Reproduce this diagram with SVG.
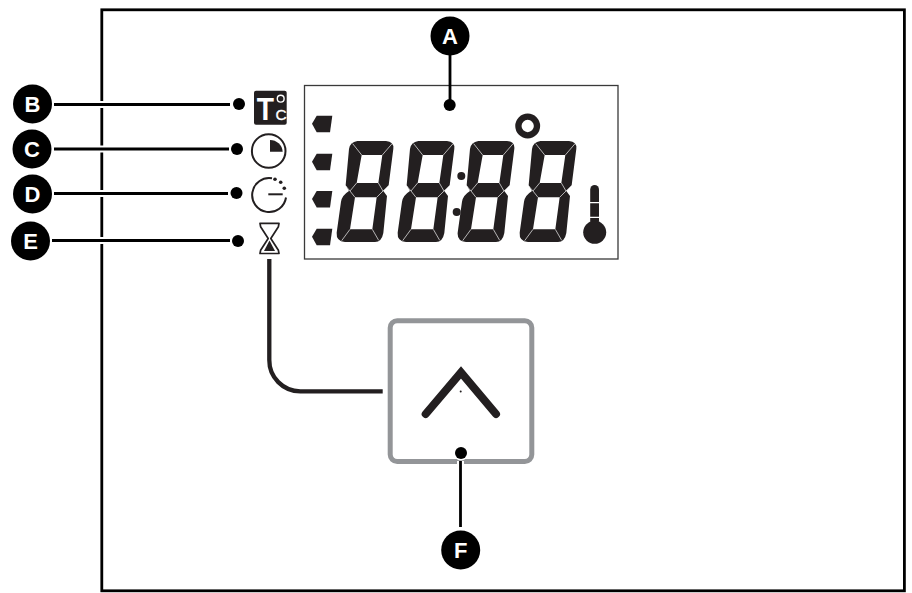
<svg xmlns="http://www.w3.org/2000/svg" width="912" height="593" viewBox="0 0 912 593">
<style>
.k{fill:#000}
.s{fill:#231f20}
.bl{fill:#000}
.lb{font-family:"Liberation Sans",Arial,sans-serif;font-weight:700;font-size:22px;fill:#fff;text-anchor:middle}
.ld{fill:none;stroke:#000;stroke-width:2.8}
.hl{fill:none;stroke:#fff;stroke-width:7}
</style>
<defs>
<g id="digit" transform="translate(300 80) scale(.33333)">
<path class="s" fill-rule="evenodd" d="M172 183H258Q282 185 280 206L266 316 250 333 261 348 250 459Q245 486 225 486H135Q108 484 110 458L123 365Q126 346 147 333L137 316 147 207Q150 186 172 183Z
M185 225H247L235 309H170Z
M165 352H230L217 448H150Z"/>
<path d="M158 191 185 225M277 190 247 225M137 318 150 333 170 309M235 309 249 333 266 318M150 333 165 352M249 333 230 352M125 482 150 448M236 481 217 448" fill="none" stroke="#fff" stroke-width="2"/>
</g>
<g id="flag" class="s"><polygon points="312,0 316.700,-8 332.300,-8 330,8.500 316.700,8.500"/></g>
</defs>

<g id="frame"><rect x="101.800" y="9.800" width="802.600" height="581" fill="none" stroke="#000" stroke-width="2.800"/></g>

<g id="display">
<rect x="304.500" y="85.500" width="313.500" height="173.500" fill="#fff" stroke="#3a3a3a" stroke-width="1.300"/>
<use href="#flag" y="123.700"/><use href="#flag" y="161.700"/><use href="#flag" y="199"/><use href="#flag" y="236.700"/>
<use href="#digit"/><use href="#digit" x="61"/><use href="#digit" x="121"/><use href="#digit" x="183"/>
<circle class="s" cx="461.300" cy="176" r="4"/><circle class="s" cx="456.700" cy="212" r="4"/>
<circle cx="527.700" cy="126" r="9.300" fill="none" stroke="#231f20" stroke-width="6.300"/>
<rect class="s" x="590.200" y="185" width="8.800" height="40" rx="4.400"/>
<circle class="s" cx="594.700" cy="232.300" r="11.500"/>
<path d="M590 202.700h9M590 217.300h9" stroke="#fff" stroke-width="1.200"/>
</g>

<g id="icon-temp">
<rect class="s" x="254" y="90.700" width="32.700" height="34" rx="2"/>
<text transform="translate(265.300 119.700) scale(.89 1)" x="0" y="0" font-family="'Liberation Sans',Arial,sans-serif" font-weight="700" font-size="31.700" fill="#fff" text-anchor="middle">T</text>
<text x="281" y="119.700" font-family="'Liberation Sans',Arial,sans-serif" font-size="15.500" fill="#fff" stroke="#fff" stroke-width=".3" text-anchor="middle">C</text>
<circle cx="280.700" cy="98.700" r="3.400" fill="none" stroke="#fff" stroke-width="1.400"/>
</g>
<g id="icon-timer">
<circle cx="268.700" cy="151" r="16.800" fill="#fff" stroke="#231f20" stroke-width="2"/>
<path class="s" d="M270 140v11.700h12.700a12.700 12.700 0 0 0-12.700-11.700z"/>
</g>
<g id="icon-delay" fill="none" stroke="#231f20" stroke-width="2">
<path d="M272 178.300A17 17 0 1 0 286 197.500"/>
<path d="M268.300 194.300h14.400"/>
<circle cx="275" cy="179.300" r="1.800" fill="#231f20" stroke="none"/>
<circle cx="280.700" cy="182.300" r="1.800" fill="#231f20" stroke="none"/>
<circle cx="284.300" cy="188.300" r="1.800" fill="#231f20" stroke="none"/>
</g>
<g id="icon-hourglass">
<path d="M260 223.300h19l-.6 3.400-7.600 11.800 7.600 11.800.6 3.200h-19l.6-3.200 7.600-11.800-7.600-11.800z" fill="#fff" stroke="#231f20" stroke-width="1.700" stroke-linejoin="round"/>
<polygon class="s" points="269.500,240.500 275,251 264,251"/>
</g>
<g id="button">
<rect x="390.200" y="320.800" width="141.600" height="140.700" rx="7" fill="#fff" stroke="#939598" stroke-width="5"/>
<path d="M425.700 414 461 372.500 496 414" fill="none" stroke="#231f20" stroke-width="8" stroke-linecap="round" stroke-miterlimit="10"/>
<circle class="s" cx="460.700" cy="391.500" r="1"/>
</g>

<g id="connectors">
<path class="hl" d="M54 104.500H230M54 149H229M54 193.500H228M52 240.500H230M460.500 461V527"/>
<path class="ld" d="M54 104.500H230M54 149H229M54 193.500H228M52 240.500H230M450 50V100M460.500 461V527"/>
<path d="M269.300 259V360A31 31 0 0 0 300.300 391.300H382.700" fill="none" stroke="#231f20" stroke-width="4.300"/>
<circle cx="461" cy="453" r="7.500" fill="#fff"/>
<circle class="k" cx="239" cy="104" r="6"/><circle class="k" cx="237" cy="149" r="6"/>
<circle class="k" cx="236.500" cy="193" r="6"/><circle class="k" cx="238" cy="241" r="6"/>
<circle class="k" cx="449.700" cy="105" r="6"/><circle class="k" cx="461" cy="453" r="6"/>
</g>

<g id="label-A"><circle class="bl" cx="450" cy="36" r="19.500"/><text class="lb" x="450" y="43.700">A</text></g>
<g id="label-B"><circle class="bl" cx="32.500" cy="104" r="19.500"/><text class="lb" x="32.500" y="111.700">B</text></g>
<g id="label-C"><circle class="bl" cx="32" cy="149" r="19.500"/><text class="lb" x="32" y="156.700">C</text></g>
<g id="label-D"><circle class="bl" cx="32.500" cy="194" r="19.500"/><text class="lb" x="32.500" y="201.700">D</text></g>
<g id="label-E"><circle class="bl" cx="30.500" cy="241" r="19.500"/><text class="lb" x="30.500" y="248.700">E</text></g>
<g id="label-F"><circle class="bl" cx="460.700" cy="550" r="19.500"/><text class="lb" x="460.700" y="557.700">F</text></g>
</svg>
